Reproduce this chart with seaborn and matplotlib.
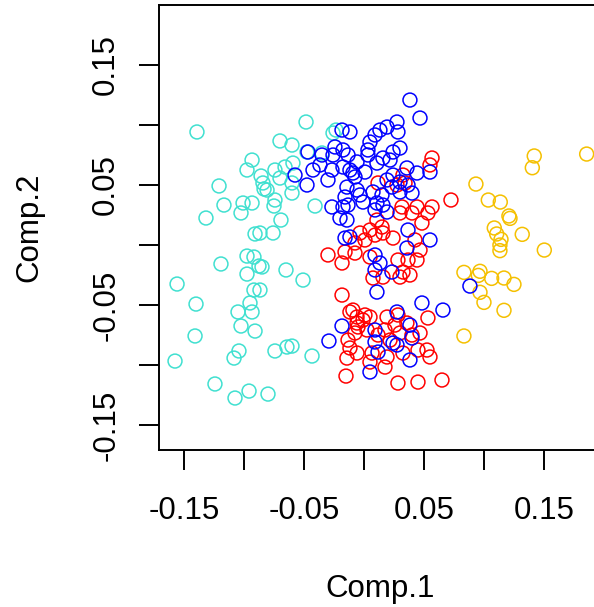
import matplotlib
matplotlib.use("Agg")
import matplotlib.pyplot as plt
import seaborn as sns
import pandas as pd

# ---- data ----
cyan_x = [-0.1392, -0.0933, -0.0975, -0.0858, -0.1208, -0.0833, -0.1167, -0.1008, -0.0933, -0.1025,
          -0.1317, -0.0908, -0.1192, -0.0975, -0.0917, -0.0875, -0.0975, -0.1558, -0.0917, -0.1400,
          -0.0950, -0.1050, -0.0933, -0.1025, -0.0908, -0.1408, -0.1575, -0.1042, -0.1083, -0.1242,
          -0.0958, -0.1075, -0.0800, -0.0483, -0.0700, -0.0600, -0.0233, -0.0750, -0.0692, -0.0758,
          -0.0867, -0.0408, -0.0650, -0.0508, -0.0850, -0.0867, -0.0742, -0.0642, -0.0600, -0.0433,
          -0.0742, -0.0658, -0.0592, -0.0700, -0.0600, -0.0842, -0.0808, -0.0742, -0.0600, -0.0475,
          -0.0350, -0.0258]
cyan_y = [0.0942, 0.0708, 0.0625, 0.0575, 0.0492, 0.0467, 0.0333, 0.0350, 0.0350, 0.0267,
          0.0225, 0.0092, -0.0158, -0.0092, -0.0100, -0.0175, -0.0242, -0.0325, -0.0375, -0.0492,
          -0.0483, -0.0558, -0.0558, -0.0675, -0.0717, -0.0758, -0.0967, -0.0883, -0.0942, -0.1158,
          -0.1217, -0.1275, -0.1242, 0.1025, 0.0867, 0.0833, 0.0958, 0.0325, 0.0208, 0.0100,
          0.0100, 0.0325, -0.0208, -0.0292, -0.0183, -0.0375, -0.0883, -0.0850, -0.0842, -0.0925,
          0.0625, 0.0650, 0.0683, 0.0558, 0.0517, 0.0517, 0.0458, 0.0375, 0.0433, 0.0775,
          0.0767, 0.0933]

gold_x = [0.1856, 0.1419, 0.1403, 0.0933, 0.1036, 0.1136, 0.1208, 0.1217, 0.1086, 0.1106,
          0.1142, 0.1319, 0.1133, 0.1133, 0.1503, 0.0833, 0.0967, 0.0953, 0.1064, 0.1167,
          0.1250, 0.0967, 0.1000, 0.1167, 0.0833]
gold_y = [0.0758, 0.0742, 0.0644, 0.0508, 0.0375, 0.0358, 0.0242, 0.0222, 0.0142, 0.0092,
          0.0047, 0.0089, 0.0000, -0.0047, -0.0042, -0.0228, -0.0219, -0.0253, -0.0278, -0.0275,
          -0.0328, -0.0394, -0.0478, -0.0544, -0.0758]

red_x = [0.0567, 0.0550, 0.0325, 0.0117, 0.0275, 0.0342, 0.0725, 0.0317, 0.0442, 0.0567,
         0.0300, 0.0400, 0.0533, 0.0483, 0.0108, 0.0150, 0.0050, -0.0033, -0.0075, 0.0008,
         0.0092, 0.0158, 0.0242, 0.0425, 0.0467, 0.0050, 0.0075, 0.0158, 0.0283, 0.0367,
         0.0442, 0.0325, 0.0383, 0.0300, -0.0092, 0.0008, 0.0283, -0.0300, -0.0158, -0.0183,
         -0.0075, -0.0183, -0.0117, -0.0058, -0.0133, -0.0117, -0.0142, -0.0150, -0.0075, -0.0058,
         -0.0008, 0.0050, -0.0050, 0.0025, 0.0192, 0.0258, 0.0175, 0.0300, 0.0217, 0.0117,
         0.0533, 0.0467, 0.0525, 0.0550, 0.0450, 0.0325, 0.0192, 0.0067, -0.0058, 0.0175,
         0.0050, 0.0283, 0.0450, 0.0650, 0.0358, 0.0400]
red_y = [0.0725, 0.0667, 0.0583, 0.0517, 0.0500, 0.0517, 0.0375, 0.0317, 0.0317, 0.0317,
         0.0267, 0.0267, 0.0267, 0.0183, 0.0208, 0.0150, 0.0125, 0.0100, 0.0017, 0.0042,
         0.0083, 0.0100, 0.0058, 0.0042, -0.0042, -0.0100, -0.0275, -0.0267, -0.0125, -0.0125,
         -0.0125, -0.0225, -0.0250, -0.0267, -0.0542, -0.0583, -0.0583, -0.0083, -0.0058, -0.0150,
         -0.0067, -0.0417, -0.0558, -0.0650, -0.0792, -0.0858, -0.0942, -0.1092, -0.0733, -0.0600,
         -0.0625, -0.0600, -0.0683, -0.0708, -0.0600, -0.0667, -0.0708, -0.0733, -0.0792, -0.0750,
         -0.0608, -0.0733, -0.0875, -0.0933, -0.0875, -0.0900, -0.0933, -0.0900, -0.0900, -0.1017,
         -0.0975, -0.1150, -0.1142, -0.1125, -0.0650, -0.0750]

blue_x = [-0.0183, -0.0467, -0.0350, -0.0242, -0.0175, -0.0258, -0.0133, -0.0367, -0.0575, -0.0425,
          -0.0267, -0.0175, -0.0117, -0.0075, -0.0475, -0.0300, -0.0142, -0.0058, -0.0158, -0.0267,
          -0.0133, 0.0383, 0.0467, 0.0275, 0.0283, 0.0192, 0.0133, 0.0092, 0.0050, 0.0033,
          0.0033, 0.0300, 0.0242, 0.0158, 0.0217, 0.0108, -0.0058, -0.0117, 0.0008, -0.0092,
          0.0442, 0.0550, 0.0358, 0.0242, 0.0192, 0.0300, 0.0367, 0.0400, 0.0300, 0.0233,
          0.0150, 0.0075, -0.0033, -0.0008, 0.0108, 0.0158, 0.0092, 0.0192, 0.0367, 0.0550,
          0.0358, -0.0117, 0.0092, 0.0133, 0.0233, 0.0092, 0.0108, 0.0483, 0.0658, 0.0275,
          -0.0175, -0.0200, -0.0142, -0.0158, -0.0183, -0.0292, 0.0383, 0.0092, 0.0092, 0.0242,
          0.0275, 0.0400, 0.0117, 0.0383, 0.0050, 0.0883]
blue_y = [0.0958, 0.0775, 0.0750, 0.0817, 0.0792, 0.0750, 0.0750, 0.0667, 0.0583, 0.0625,
          0.0625, 0.0650, 0.0625, 0.0567, 0.0500, 0.0542, 0.0483, 0.0458, 0.0400, 0.0317,
          0.0333, 0.1208, 0.1058, 0.1025, 0.0942, 0.0983, 0.0958, 0.0917, 0.0858, 0.0792,
          0.0750, 0.0808, 0.0775, 0.0725, 0.0708, 0.0683, 0.0692, 0.0942, 0.0608, 0.0600,
          0.0600, 0.0608, 0.0642, 0.0583, 0.0542, 0.0525, 0.0500, 0.0433, 0.0442, 0.0483,
          0.0417, 0.0442, 0.0417, 0.0358, 0.0350, 0.0333, 0.0292, 0.0275, 0.0125, 0.0042,
          -0.0025, 0.0067, -0.0083, -0.0150, -0.0225, -0.0208, -0.0392, -0.0483, -0.0542, -0.0558,
          0.0317, 0.0225, 0.0208, 0.0058, -0.0675, -0.0800, -0.0667, -0.0708, -0.0808, -0.0817,
          -0.0833, -0.0775, -0.0892, -0.0958, -0.1058, -0.0342]

group_names = ["g1", "g2", "g3", "g4"]
group_colors = ["#40E0D0", "#F5C000", "#FF0000", "#0000FF"]

x_ticks = [-0.15, -0.10, -0.05, 0.00, 0.05, 0.10, 0.15]
x_ticklabels = ["-0.15", "", "-0.05", "", "0.05", "", "0.15"]
y_ticks = [-0.15, -0.10, -0.05, 0.00, 0.05, 0.10, 0.15]
y_ticklabels = ["-0.15", "", "-0.05", "", "0.05", "", "0.15"]

df = pd.DataFrame({
    "Comp.1": cyan_x + gold_x + red_x + blue_x,
    "Comp.2": cyan_y + gold_y + red_y + blue_y,
    "group": ([group_names[0]] * len(cyan_x) + [group_names[1]] * len(gold_x)
              + [group_names[2]] * len(red_x) + [group_names[3]] * len(blue_x)),
})

sns.set_style("white")
plt.rcParams["font.family"] = ["Liberation Sans", "DejaVu Sans"]

W, H = 594, 607
fig = plt.figure(figsize=(W / 100, H / 100), dpi=100)
left, right, top, bottom = 159.3, 600.7, 5.0, 450.0
ax = fig.add_axes([left / W, 1 - bottom / H, (right - left) / W, (bottom - top) / H])

sns.scatterplot(data=df, x="Comp.1", y="Comp.2", hue="group",
                palette=dict(zip(group_names, group_colors)),
                marker="o", s=100, linewidth=1.1, legend=False, ax=ax)
coll = ax.collections[0]
fc = coll.get_facecolors()
coll.set_edgecolors(fc)
coll.set_facecolors("none")

ax.set_xlim(-0.1706, 0.1973)
ax.set_ylim(-0.1708, 0.2)

ax.set_xticks(x_ticks)
ax.set_xticklabels(x_ticklabels)
ax.set_yticks(y_ticks)
ax.set_yticklabels(y_ticklabels, rotation=90, va="center")

ax.tick_params(axis="both", which="major", direction="out", length=14.4, width=1.4,
               color="black", labelsize=22.5, labelcolor="black", bottom=True, left=True)
ax.tick_params(axis="x", pad=19)
ax.tick_params(axis="y", pad=13)

for sp in ax.spines.values():
    sp.set_visible(True)
    sp.set_color("black")
    sp.set_linewidth(1.4)

ax.set_xlabel("Comp.1", fontsize=22.5, color="black")
ax.set_ylabel("Comp.2", fontsize=22.5, color="black")
ax.xaxis.label.set_va("baseline")
ax.xaxis.set_label_coords(0.5, (bottom - 597) / (bottom - top))
ax.yaxis.label.set_va("baseline")
ax.yaxis.set_label_coords((37 - left) / (right - left), 0.5)

fig.savefig("out.png", dpi=100)
